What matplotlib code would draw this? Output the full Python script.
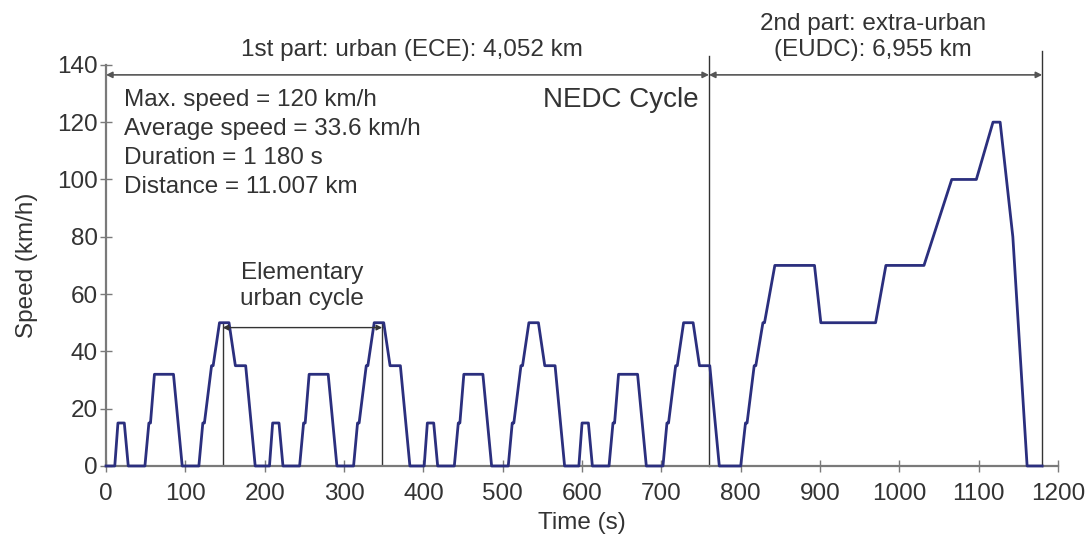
import matplotlib.pyplot as plt

# NEDC speed trace: breakpoints (s, km/h), straight segments between them
# four elementary urban cycles (ECE) followed by the extra-urban part (EUDC)
time_s = [
    0, 11, 15, 23, 28, 49, 54, 56, 61, 85, 96, 117, 122, 124, 133, 135, 143, 155, 163, 176, 188,
    206, 210, 218, 223, 244, 249, 251, 256, 280, 291, 312, 317, 319, 328, 330, 338, 350, 358, 371, 383,
    401, 405, 413, 418, 439, 444, 446, 451, 475, 486, 507, 512, 514, 523, 525, 533, 545, 553, 566, 578,
    596, 600, 608, 613, 634, 639, 641, 646, 670, 681, 702, 707, 709, 718, 720, 728, 740, 748, 761, 773,
    800, 806, 808, 817, 819, 828, 830, 843, 893, 901, 970, 983, 1031, 1066, 1097, 1118, 1127, 1143, 1161, 1180,
]
speed_kmh = [
    0, 0, 15, 15, 0, 0, 15, 15, 32, 32, 0, 0, 15, 15, 35, 35, 50, 50, 35, 35, 0,
    0, 15, 15, 0, 0, 15, 15, 32, 32, 0, 0, 15, 15, 35, 35, 50, 50, 35, 35, 0,
    0, 15, 15, 0, 0, 15, 15, 32, 32, 0, 0, 15, 15, 35, 35, 50, 50, 35, 35, 0,
    0, 15, 15, 0, 0, 15, 15, 32, 32, 0, 0, 15, 15, 35, 35, 50, 50, 35, 35, 0,
    0, 15, 15, 35, 35, 50, 50, 70, 70, 50, 50, 70, 70, 100, 100, 120, 120, 80, 0, 0,
]

ece_end = 760
eudc_end = 1180
elem_start, elem_end = 147, 348

stats = ["Max. speed = 120 km/h", "Average speed = 33.6 km/h",
         "Duration = 1 180 s", "Distance = 11.007 km"]

txt = "#333333"
gray = "#7a7a7a"
fs = 17.5
plt.rcParams["font.family"] = ["Liberation Sans", "DejaVu Sans"]

fig = plt.figure(figsize=(10.91, 5.45), dpi=100)
ax = fig.add_axes([0.0972, 0.145, 0.8726, 0.736])

ax.plot(time_s, speed_kmh, color="#2b2f7e", lw=2.0, zorder=3, clip_on=False)

ax.set_xlim(0, 1200)
ax.set_ylim(0, 140)
ax.set_xticks(range(0, 1201, 100))
ax.set_yticks(range(0, 141, 20))
for s in ["top", "right"]:
    ax.spines[s].set_visible(False)
for s in ["left", "bottom"]:
    ax.spines[s].set_color(gray)
    ax.spines[s].set_linewidth(1.6)
ax.tick_params(direction="inout", length=8, width=1.0, color=gray,
               labelsize=fs, labelcolor=txt, pad=2)
ax.tick_params(axis="x", pad=8.5)
ax.set_xlabel("Time (s)", fontsize=fs, color=txt, labelpad=5)
ax.set_ylabel("Speed (km/h)", fontsize=fs, color=txt, labelpad=14)

# part boundaries
ax.plot([ece_end, ece_end], [0, 143], color="#333333", lw=1.0, clip_on=False)
ax.plot([eudc_end, eudc_end], [0, 145], color="#333333", lw=1.0, clip_on=False)

arrow = dict(arrowstyle="<|-|>", color="#555555", lw=1.2, mutation_scale=9,
             shrinkA=0, shrinkB=0)
ax.annotate("", xy=(0, 136.5), xytext=(ece_end, 136.5), arrowprops=arrow,
            annotation_clip=False)
ax.annotate("", xy=(ece_end, 136.5), xytext=(eudc_end, 136.5), arrowprops=arrow,
            annotation_clip=False)
ax.text(ece_end / 2 + 5, 145.3, "1st part: urban (ECE): 4,052 km", ha="center",
        va="center", fontsize=fs, color=txt)
ax.text((ece_end + eudc_end) / 2 - 3, 149.6, "2nd part: extra-urban\n(EUDC): 6,955 km",
        ha="center", va="center", fontsize=fs, color=txt, linespacing=1.25)
ax.text(ece_end - 13, 127.8, "NEDC Cycle", ha="right", va="center",
        fontsize=20, color=txt)

for i, line in enumerate(stats):
    ax.text(23, 127.8 - i * 10.1, line, ha="left", va="center", fontsize=fs, color=txt)

# one elementary urban cycle
ax.plot([elem_start, elem_start], [0, 50], color="#333333", lw=1.0)
ax.plot([elem_end, elem_end], [0, 50], color="#333333", lw=1.0)
ax.annotate("", xy=(elem_start, 48.3), xytext=(elem_end, 48.3),
            arrowprops=dict(arrowstyle="<|-|>", color="#333333", lw=1.0,
                            mutation_scale=8, shrinkA=0, shrinkB=0))
ax.text((elem_start + elem_end) / 2, 62.8, "Elementary\nurban cycle", ha="center",
        va="center", fontsize=fs, color=txt, linespacing=1.25)

fig.savefig("out.png", dpi=100)
